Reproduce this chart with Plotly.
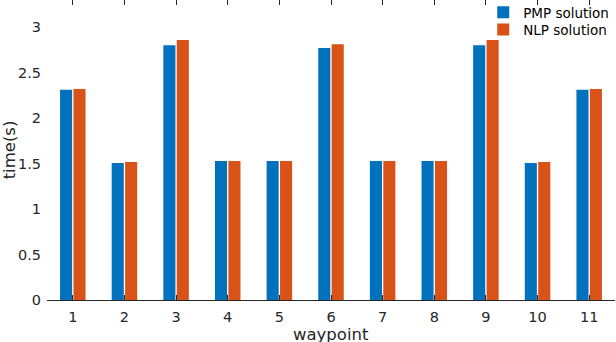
import plotly.graph_objects as go

waypoints = [1, 2, 3, 4, 5, 6, 7, 8, 9, 10, 11]
pmp_time = [2.31, 1.505, 2.80, 1.527, 1.527, 2.77, 1.527, 1.527, 2.80, 1.505, 2.31]
nlp_time = [2.32, 1.516, 2.857, 1.527, 1.527, 2.81, 1.527, 1.527, 2.857, 1.516, 2.32]
y_ticks = [0, 0.5, 1, 1.5, 2, 2.5, 3]
y_ticklabels = ["0", "0.5", "1", "1.5", "2", "2.5", "3"]

font_family = "DejaVu Sans"
ink = "#262626"

fig = go.Figure()
fig.add_trace(go.Bar(x=waypoints, y=pmp_time, name="PMP solution", legend="legend",
                     marker=dict(color="#0072BD", line=dict(width=0))))
fig.add_trace(go.Bar(x=waypoints, y=nlp_time, name="NLP solution", legend="legend2",
                     marker=dict(color="#D95319", line=dict(width=0))))

leg_common = dict(xanchor="left", yanchor="top",
                  bgcolor="rgba(255,255,255,0)", borderwidth=0,
                  font=dict(size=13.5, color="black"), tracegroupgap=0)

fig.update_layout(
    width=616, height=342,
    margin=dict(l=47, r=1, t=0, b=42, autoexpand=False),
    paper_bgcolor="white", plot_bgcolor="white",
    barmode="group", bargap=0.48, bargroupgap=0.1,
    font=dict(family=font_family, color=ink, size=15),
    legend=dict(x=0.768, y=1.01, **leg_common),
    legend2=dict(x=0.768, y=0.953, **leg_common),
    showlegend=True,
    annotations=[dict(text="waypoint", xref="paper", yref="paper", x=0.5, y=-34 / 300,
                      xanchor="center", yanchor="middle", showarrow=False,
                      font=dict(size=16.5, color=ink))],
)
fig.update_xaxes(
    range=[0.5, 11.5], tickvals=waypoints, ticktext=[str(w) for w in waypoints],
    showline=True, linecolor=ink, linewidth=1, automargin=False,
    ticks="inside", ticklen=5, tickcolor=ink, mirror="ticks",
    showgrid=False, zeroline=False, ticklabelstandoff=4,
    tickfont=dict(size=14.5),
)
fig.update_yaxes(
    range=[0, 3.297], tickvals=y_ticks, ticktext=y_ticklabels, automargin=False,
    showline=False, ticks="", showgrid=False, zeroline=False, ticklabelstandoff=5,
    title=dict(text="time(s)", font=dict(size=16.5), standoff=4),
    tickfont=dict(size=14.5),
)

fig.write_html("out.html", config={"displayModeBar": False},
               post_script="document.body.style.margin='0';document.body.style.padding='0';")
